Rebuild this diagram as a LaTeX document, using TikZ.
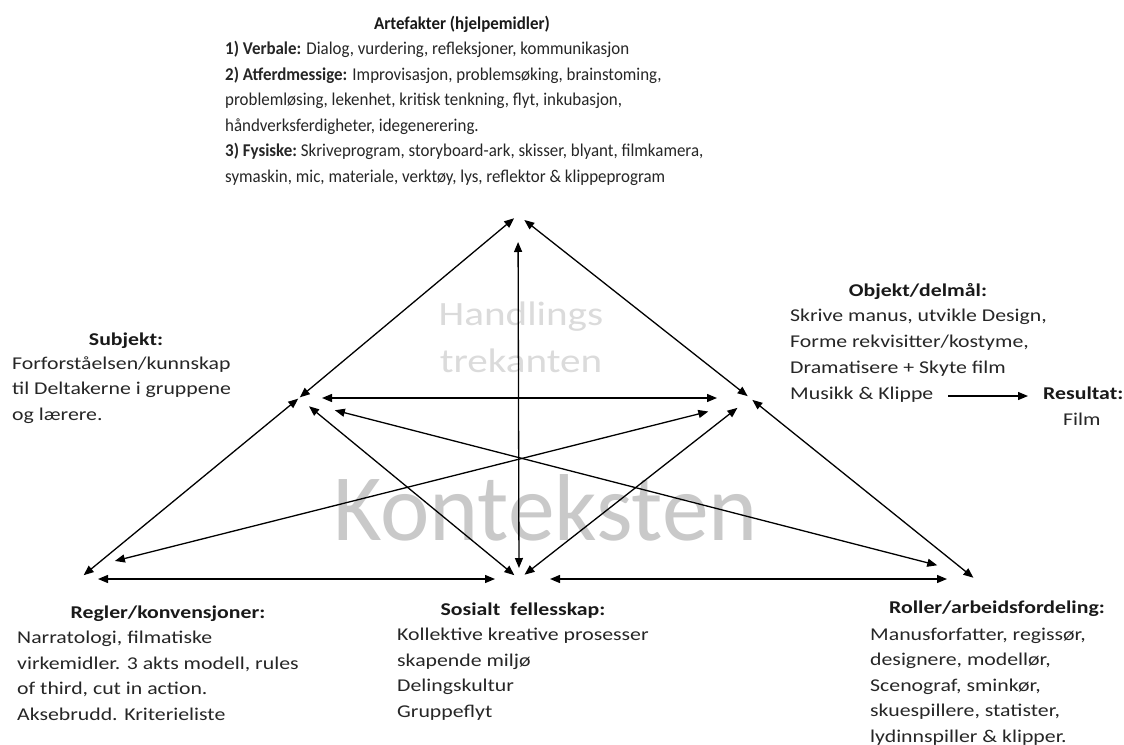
\documentclass[tikz,border=0pt]{standalone}
\usepackage{fontspec}
\setmainfont{Carlito}
\newfontfamily\widefont[FakeStretch=1.21]{Carlito}
\newfontfamily\narrowfont[FakeStretch=0.94]{Carlito}
\newfontfamily\bigfont[FakeStretch=0.985]{Carlito}
\usetikzlibrary{arrows.meta}

\begin{document}
\begin{tikzpicture}[x=1pt,y=-1pt,
  link/.style={<->,>={Triangle[length=10pt,width=8pt]},line width=1.3pt},
  onelink/.style={->,>={Triangle[length=10pt,width=8pt]},line width=1.3pt},
  head/.style={inner sep=0pt,anchor=base,text=black!90,font=\widefont\fontsize{18}{25.5}\selectfont\bfseries},
  body/.style={inner sep=0pt,anchor=base west,align=left,text=black!85,font=\widefont\fontsize{18}{25.5}\selectfont},
  faint/.style={inner sep=0pt,anchor=base,align=center,text=black!14,font=\widefont\fontsize{34}{47}\selectfont}]
 \useasboundingbox (0,0) rectangle (1124,744);
 \fill[white] (0,0) rectangle (1124,744);

 % background words
 \node[faint] (handlings) at (521,372) {Handlings\\trekanten};
 \node[inner sep=0pt,anchor=base west,text=black!21,font=\bigfont\fontsize{95}{100}\selectfont] (kontekst) at (333,540) {Konteksten};

 % corners of the triangle
 \coordinate (top) at (518,215);
 \coordinate (subj) at (299,398);
 \coordinate (obj) at (750,398);
 \coordinate (regler) at (79,579);
 \coordinate (sosial) at (519,579);
 \coordinate (roller) at (975,579);

 % texts (multi-line nodes sit on their last line)
 \node[head,font=\narrowfont\fontsize{18}{25.5}\selectfont\bfseries] (artefakter) at (462,29) {Artefakter (hjelpemidler)};
 \node[body,font=\narrowfont\fontsize{18}{25.5}\selectfont] (hjelpemidler) at (225,182)
  {\textbf{1) Verbale:} Dialog, vurdering, refleksjoner, kommunikasjon\\
   \textbf{2) Atferdmessige:} Improvisasjon, problemsøking, brainstoming,\\
   problemløsing, lekenhet,\ kritisk tenkning, flyt, inkubasjon,\\
   håndverksferdigheter, idegenerering.\\
   \textbf{3) Fysiske:}\ Skriveprogram, storyboard-ark, skisser, blyant, filmkamera,\\
   symaskin, mic, materiale, verktøy,\ lys, reflektor \& klippeprogram};

 \node[head] (subjekt) at (126,345) {Subjekt:};
 \node[body] (subjekt-txt) at (12,420) {Forforståelsen/kunnskap\\til Deltakerne i gruppene\\og lærere.};

 \node[head] (objekt) at (918,296) {Objekt/delmål:};
 \node[body,font=\widefont\fontsize{18}{26}\selectfont] (objekt-txt) at (790,399) {Skrive manus, utvikle Design,\\Forme\ rekvisitter/kostyme,\\Dramatisere + Skyte\ film\\Musikk \& Klippe};
 \node[head,anchor=base west] (resultat) at (1043,399) {Resultat:};
 \node[body] (film) at (1063,425) {Film};

 \node[head] (regler-head) at (168,618) {Regler/konvensjoner:};
 \node[body] (regler-txt) at (17,720) {Narratologi, filmatiske\\virkemidler. 3 akts modell, rules\\of third, cut\ in action.\\Aksebrudd. Kriterieliste};

 \node[head] (sosial-head) at (523,615) {Sosialt\ \ fellesskap:};
 \node[body] (sosial-txt) at (397,717) {Kollektive kreative prosesser\\skapende miljø\\Delingskultur\\Gruppeflyt};

 \node[head] (roller-head) at (997,613) {Roller/arbeidsfordeling:};
 \node[body] (roller-txt) at (870,742) {Manusforfatter, regissør,\\designere, modellør,\\Scenograf, sminkør,\\skuespillere, statister,\\lydinnspiller \& klipper.};

 % arrows
 \path[link]
  (subj) edge[shorten <=1pt,shorten >=5pt] (top)
  (top) edge[shorten <=8pt,shorten >=3pt] (obj)
  (top) edge[shorten <=27pt,shorten >=11pt] (sosial)
  (subj) edge[shorten <=23pt,shorten >=33pt] (obj)
  (subj) edge[shorten <=1pt,shorten >=6pt] (regler)
  (obj) edge[shorten <=3pt,shorten >=2pt] (roller)
  (regler) edge[shorten <=19pt,shorten >=24pt] (sosial)
  (sosial) edge[shorten <=31pt,shorten >=28pt] (roller)
  (subj) edge[shorten <=13pt,shorten >=6pt] (sosial)
  ([yshift=-3pt]subj) edge[shorten <=37pt,shorten >=39pt] ([yshift=4pt]roller)
  ([yshift=9pt]regler) edge[shorten <=37pt,shorten >=43pt] ([yshift=-3pt]obj)
  (sosial) edge[shorten <=7pt,shorten >=16pt] (obj);

 \coordinate (musikk) at (948,396);
 \draw[onelink,shorten >=15pt] (musikk) -- (resultat.west |- musikk);
\end{tikzpicture}
\end{document}
